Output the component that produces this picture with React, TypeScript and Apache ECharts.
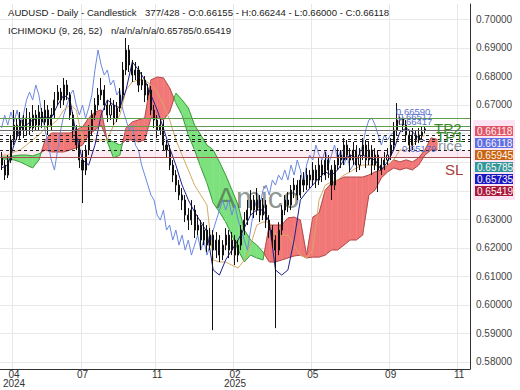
import React, { useEffect, useRef } from "react";
import * as echarts from "echarts";

const FONT = "'Liberation Sans', Arial, Helvetica, sans-serif";

// ---------- axes ----------
const CATEGORY_COUNT = 151; // bars incl. forward projection + right margin
const xTickIndex = [4, 26, 50, 75, 100, 125, 147];
const xTickLabels = ["04\n2024", "07", "11", "02\n2025", "05", "09", "11"];
const yGridValues = [0.58, 0.59, 0.6, 0.61, 0.62, 0.63, 0.64, 0.65, 0.66, 0.67, 0.68, 0.69, 0.7];
const yLabelValues = [0.58, 0.59, 0.6, 0.61, 0.62, 0.63, 0.67, 0.68, 0.69, 0.7];
const yMin = 0.57755;
const yMax = 0.70525;

// ---------- candles: [open, close, low, high] ----------
const candles: number[][] = [
  [0.65135, 0.6489, 0.64715, 0.65345],
  [0.6489, 0.6454, 0.64365, 0.65065],
  [0.6454, 0.65065, 0.64435, 0.6524],
  [0.65065, 0.65765, 0.6496, 0.6594],
  [0.65765, 0.6629, 0.6559, 0.66815],
  [0.6629, 0.6594, 0.65765, 0.66535],
  [0.6594, 0.66465, 0.65765, 0.66745],
  [0.66465, 0.66115, 0.65835, 0.6664],
  [0.66115, 0.66535, 0.6594, 0.66885],
  [0.66535, 0.66185, 0.6594, 0.66745],
  [0.66185, 0.6664, 0.66045, 0.6699],
  [0.6664, 0.6629, 0.66115, 0.66815],
  [0.6629, 0.66745, 0.66115, 0.6699],
  [0.66745, 0.66395, 0.66185, 0.66885],
  [0.66395, 0.66815, 0.6629, 0.67165],
  [0.66815, 0.6629, 0.6594, 0.6699],
  [0.6629, 0.6664, 0.66115, 0.66885],
  [0.6664, 0.67165, 0.66535, 0.67445],
  [0.67165, 0.67445, 0.6699, 0.6769],
  [0.67445, 0.67165, 0.66885, 0.67585],
  [0.67165, 0.6769, 0.6699, 0.67935],
  [0.6769, 0.6734, 0.67165, 0.67865],
  [0.6734, 0.6664, 0.66465, 0.67445],
  [0.6664, 0.66115, 0.65835, 0.66745],
  [0.66115, 0.6559, 0.65415, 0.6629],
  [0.6559, 0.65065, 0.64785, 0.65765],
  [0.65065, 0.64715, 0.6356, 0.65415],
  [0.64715, 0.65415, 0.6454, 0.6559],
  [0.65415, 0.66115, 0.6524, 0.6629],
  [0.66115, 0.6664, 0.6594, 0.66815],
  [0.6664, 0.6699, 0.66465, 0.67235],
  [0.6699, 0.6734, 0.66815, 0.67585],
  [0.6734, 0.67515, 0.67165, 0.67935],
  [0.67515, 0.6699, 0.66815, 0.6769],
  [0.6699, 0.6664, 0.66395, 0.67165],
  [0.6664, 0.6699, 0.66465, 0.67235],
  [0.6699, 0.66535, 0.6629, 0.67165],
  [0.66535, 0.66885, 0.66395, 0.67095],
  [0.66885, 0.6734, 0.66745, 0.67585],
  [0.6734, 0.68215, 0.67165, 0.68495],
  [0.68215, 0.68915, 0.6804, 0.69335],
  [0.68915, 0.6839, 0.68145, 0.6909],
  [0.6839, 0.6804, 0.67795, 0.68565],
  [0.6804, 0.68215, 0.67865, 0.68495],
  [0.68215, 0.6769, 0.67445, 0.68355],
  [0.6769, 0.67865, 0.67515, 0.68145],
  [0.67865, 0.6734, 0.67095, 0.68005],
  [0.6734, 0.67515, 0.67165, 0.67725],
  [0.67515, 0.66815, 0.6664, 0.67655],
  [0.66815, 0.66465, 0.66185, 0.6699],
  [0.66465, 0.66115, 0.65835, 0.6664],
  [0.66115, 0.6629, 0.6594, 0.66535],
  [0.6629, 0.6559, 0.65415, 0.66465],
  [0.6559, 0.65415, 0.65135, 0.65765],
  [0.65415, 0.6489, 0.64715, 0.6559],
  [0.6489, 0.6454, 0.64295, 0.65065],
  [0.6454, 0.6419, 0.63945, 0.64715],
  [0.6419, 0.6384, 0.63665, 0.64365],
  [0.6384, 0.63665, 0.63315, 0.64085],
  [0.63665, 0.6314, 0.62895, 0.6384],
  [0.6314, 0.62965, 0.62615, 0.63385],
  [0.62965, 0.63315, 0.6279, 0.63665],
  [0.63315, 0.62615, 0.62335, 0.6349],
  [0.62615, 0.6279, 0.6244, 0.6314],
  [0.6279, 0.62265, 0.61915, 0.62965],
  [0.62265, 0.62615, 0.6209, 0.62895],
  [0.62615, 0.6209, 0.61845, 0.6279],
  [0.6209, 0.6244, 0.61915, 0.62685],
  [0.6244, 0.61915, 0.59115, 0.62615],
  [0.61915, 0.62265, 0.61635, 0.62545],
  [0.62265, 0.6174, 0.61495, 0.6244],
  [0.6174, 0.6209, 0.61565, 0.62265],
  [0.6209, 0.6244, 0.61915, 0.62685],
  [0.6244, 0.61915, 0.61635, 0.62615],
  [0.61915, 0.62265, 0.6174, 0.62545],
  [0.62265, 0.6174, 0.6139, 0.6244],
  [0.6174, 0.6209, 0.61495, 0.62265],
  [0.6209, 0.62615, 0.61915, 0.6279],
  [0.62615, 0.62965, 0.6244, 0.63245],
  [0.62965, 0.63315, 0.6279, 0.63665],
  [0.63315, 0.63665, 0.6314, 0.64015],
  [0.63665, 0.63315, 0.63035, 0.6384],
  [0.63315, 0.63665, 0.6314, 0.64085],
  [0.63665, 0.6314, 0.62895, 0.6384],
  [0.6314, 0.6349, 0.62965, 0.63735],
  [0.6349, 0.62965, 0.62685, 0.63665],
  [0.62965, 0.62615, 0.62335, 0.6314],
  [0.62615, 0.62265, 0.61985, 0.6279],
  [0.62265, 0.61915, 0.59185, 0.6244],
  [0.61915, 0.62615, 0.6174, 0.62895],
  [0.62615, 0.63315, 0.6244, 0.6349],
  [0.63315, 0.63665, 0.6314, 0.6384],
  [0.63665, 0.6349, 0.63245, 0.63945],
  [0.6349, 0.64015, 0.63315, 0.6419],
  [0.64015, 0.6419, 0.63735, 0.64435],
  [0.6419, 0.6384, 0.63665, 0.64365],
  [0.6384, 0.64365, 0.63735, 0.6454],
  [0.64365, 0.6419, 0.63945, 0.64645],
  [0.6419, 0.6454, 0.64015, 0.64785],
  [0.6454, 0.64365, 0.64085, 0.64715],
  [0.64365, 0.64715, 0.6419, 0.64995],
  [0.64715, 0.64365, 0.64085, 0.6489],
  [0.64365, 0.6489, 0.6419, 0.65135],
  [0.6489, 0.6454, 0.64295, 0.65065],
  [0.6454, 0.65065, 0.64365, 0.65345],
  [0.65065, 0.64715, 0.64435, 0.6524],
  [0.64715, 0.6419, 0.63665, 0.6489],
  [0.6419, 0.6489, 0.64015, 0.65065],
  [0.6489, 0.6524, 0.64715, 0.65485],
  [0.6524, 0.65065, 0.64785, 0.65415],
  [0.65065, 0.6559, 0.6489, 0.65835],
  [0.6559, 0.6524, 0.65065, 0.65765],
  [0.6524, 0.65065, 0.64645, 0.65485],
  [0.65065, 0.65415, 0.6489, 0.65695],
  [0.65415, 0.6489, 0.64645, 0.6559],
  [0.6489, 0.6524, 0.64715, 0.65485],
  [0.6524, 0.6559, 0.65065, 0.65835],
  [0.6559, 0.65065, 0.64785, 0.65765],
  [0.65065, 0.65415, 0.6489, 0.65695],
  [0.65415, 0.6489, 0.6454, 0.6559],
  [0.6489, 0.6524, 0.64715, 0.65485],
  [0.6524, 0.64715, 0.63945, 0.65415],
  [0.64715, 0.6489, 0.6454, 0.65135],
  [0.6489, 0.65065, 0.64715, 0.65345],
  [0.65065, 0.6524, 0.6489, 0.65485],
  [0.6524, 0.6559, 0.65065, 0.65835],
  [0.6559, 0.66115, 0.65415, 0.66395],
  [0.66115, 0.66465, 0.6594, 0.6706],
  [0.66465, 0.66535, 0.6629, 0.6659],
  [0.66535, 0.6629, 0.66045, 0.6652],
  [0.6629, 0.6594, 0.65695, 0.66465],
  [0.6594, 0.6559, 0.65345, 0.66115],
  [0.6559, 0.6594, 0.65415, 0.66185],
  [0.6594, 0.65765, 0.6559, 0.66115],
  [0.65765, 0.6594, 0.6566, 0.66185],
  [0.6594, 0.66045, 0.65765, 0.66255],
  [0.66155, 0.66118, 0.66, 0.66244],
];

// ---------- Ichimoku lines (one reading every 2 bars) ----------
const ICHI_STEP = 2;
const tenkan = [
  0.6479, 0.6489, 0.6559, 0.6618, 0.6629, 0.6647, 0.6654, 0.6657, 0.6654, 0.6699,
  0.6734, 0.6717, 0.6594, 0.6507, 0.6489, 0.6559, 0.6664, 0.6717, 0.6699, 0.6689,
  0.6752, 0.685, 0.6822, 0.6787, 0.6734, 0.6682, 0.6618, 0.6549, 0.6489, 0.6419,
  0.6367, 0.6325, 0.629, 0.6255, 0.6122, 0.6104, 0.6157, 0.6192, 0.6227, 0.6269,
  0.6314, 0.6332, 0.6332, 0.629, 0.6122, 0.6104, 0.6122, 0.6227, 0.6367, 0.6395,
  0.6419, 0.6444, 0.6465, 0.6454, 0.6472, 0.6507, 0.6524, 0.6514, 0.6524, 0.6514,
  0.6507, 0.6472, 0.65, 0.6542, 0.6605, 0.6618, 0.6605, 0.6584, 0.65735,
];
const kijun = [
  0.6524, 0.6524, 0.6535, 0.6542, 0.6559, 0.6577, 0.6594, 0.6618, 0.6629, 0.6647,
  0.6682, 0.6699, 0.6682, 0.6577, 0.6577, 0.6577, 0.6577, 0.6577, 0.6629, 0.6664,
  0.6752, 0.678, 0.6787, 0.6787, 0.6769, 0.6745, 0.6699, 0.6647, 0.6577, 0.6524,
  0.6472, 0.6419, 0.6384, 0.6349, 0.6157, 0.615, 0.615, 0.6139, 0.6129, 0.6157,
  0.6209, 0.6279, 0.629, 0.629, 0.6244, 0.6244, 0.6244, 0.6209, 0.6174, 0.6164,
  0.6192, 0.6367, 0.6419, 0.643, 0.6437, 0.6454, 0.6465, 0.6479, 0.6489, 0.6489,
  0.6489, 0.6479, 0.6489, 0.6507, 0.6542, 0.6542, 0.6559, 0.6577, 0.65945,
];
const senkouA = [
  0.651, 0.651, 0.6507, 0.65, 0.6489, 0.6479, 0.6507, 0.6577, 0.6601, 0.6601,
  0.6601, 0.6601, 0.6612, 0.6622, 0.6654, 0.6675, 0.6682, 0.657, 0.6514, 0.6524,
  0.6619, 0.664, 0.6647, 0.6654, 0.6787, 0.6797, 0.6794, 0.6759, 0.6706, 0.6664,
  0.6594, 0.6542, 0.6482, 0.6426, 0.6356, 0.6325, 0.629, 0.6244, 0.6192, 0.615,
  0.6174, 0.6164, 0.6157, 0.6279, 0.6279, 0.6279, 0.6304, 0.6307, 0.6297, 0.6174,
  0.6307, 0.6321, 0.6402, 0.6426, 0.6437, 0.6447, 0.6447, 0.6447, 0.6447, 0.6454,
  0.6465, 0.6472, 0.6489, 0.6507, 0.65, 0.6507, 0.65, 0.6514, 0.6542, 0.6584, 0.65785,
];
const senkouB = [
  0.6517, 0.6517, 0.6521, 0.6524, 0.6524, 0.6521, 0.6528, 0.6542, 0.6535, 0.6535,
  0.6535, 0.6542, 0.6549, 0.6559, 0.6594, 0.6612, 0.6629, 0.6577, 0.657, 0.6559,
  0.6577, 0.6577, 0.657, 0.6577, 0.6654, 0.6654, 0.6647, 0.6675, 0.6741, 0.6717,
  0.6689, 0.6629, 0.6594, 0.6559, 0.6542, 0.65, 0.6454, 0.6402, 0.6349, 0.6262,
  0.6227, 0.6209, 0.6185, 0.615, 0.615, 0.6157, 0.6164, 0.6171, 0.6174, 0.6164,
  0.6167, 0.6167, 0.6174, 0.6192, 0.6192, 0.6209, 0.6227, 0.6227, 0.6244, 0.6384,
  0.6402, 0.6444, 0.6465, 0.6479, 0.6472, 0.6479, 0.6472, 0.6489, 0.6524, 0.6542, 0.65419,
];
const CHIKOU_SHIFT = 9; // close plotted 26 days back (9 bars here)

// ---------- levels ----------
const tp2Level = 0.6653;
const tp1Level = 0.6627;
const lastPrice = 0.66118;
const stopLoss = 0.6516;
const dashedLevels = [0.65945, 0.65785, 0.65735, 0.65419];

// ---------- texts ----------
const titleMain = "AUDUSD - Daily - Candlestick";
const titleOhlc = "377/428 - O:0.66155 - H:0.66244 - L:0.66000 - C:0.66118";
const ichiName = "ICHIMOKU (9, 26, 52)";
const ichiValues = "n/a/n/a/n/a/0.65785/0.65419";
const priceTags = ["0.66118", "0.66118", "0.65945", "0.65785", "0.65735", "0.65419"];
const priceTagColors = ["#e25565", "#5d6fe4", "#c8640f", "#2f9999", "#1818c2", "#a8193a"];
const peakNotes = ["0.66590", "0.66517", "0.66417", "0.65179"];

const RED_FILL = "#f27878";
const RED_EDGE = "#b04c4c";
const GREEN_FILL = "#7de27d";
const GREEN_EDGE = "#3f9a3f";

// line styles for horizontal rules: [color, dash]
const LINE_STYLES: any[] = [
  { stroke: "#e8e8e8", lineDash: null }, // 0 grid
  { stroke: "#5f9c4c", lineDash: null }, // 1 target
  { stroke: "#6e6e6e", lineDash: null }, // 2 price
  { stroke: "#222222", lineDash: [3, 3] }, // 3 dashed ichimoku value
  { stroke: "#a85050", lineDash: null }, // 4 stop loss
];

function buildOption(): any {
  const cats = Array.from({ length: CATEGORY_COUNT }, (_, i) => String(i));
  const cloudData: number[][] = [];
  for (let k = 0; k < senkouA.length - 1; k++) {
    cloudData.push([k * ICHI_STEP, senkouA[k], senkouB[k], (k + 1) * ICHI_STEP, senkouA[k + 1], senkouB[k + 1]]);
  }
  const chikouData = candles.slice(CHIKOU_SHIFT).map((c, k) => [k, c[1]]);
  const tenkanData = tenkan.map((v, k) => [k * ICHI_STEP, v]);
  const kijunData = kijun.map((v, k) => [k * ICHI_STEP, v]);

  // [x index (unused), y value, style kind]
  const gridRows = yGridValues.map((v) => [0, v, 0]);
  const levelRows = [
    [0, tp2Level, 1],
    [0, tp1Level, 1],
    [0, lastPrice, 2],
    ...dashedLevels.map((v) => [0, v, 3]),
    [0, stopLoss, 4],
  ];
  const bandRows = [[0, dashedLevels[3], stopLoss]];

  const renderHLine = (params: any, api: any) => {
    const cs = params.coordSys;
    const y = Math.round(api.coord([0, api.value(1)])[1]) + 0.5;
    const st = LINE_STYLES[api.value(2)];
    return {
      type: "line",
      shape: { x1: cs.x, y1: y, x2: cs.x + cs.width, y2: y },
      style: { stroke: st.stroke, lineWidth: 1, lineDash: st.lineDash || undefined },
    };
  };
  const renderBand = (params: any, api: any) => {
    const cs = params.coordSys;
    const y1 = api.coord([0, api.value(1)])[1];
    const y2 = api.coord([0, api.value(2)])[1];
    return {
      type: "rect",
      shape: { x: cs.x, y: Math.min(y1, y2), width: cs.width, height: Math.abs(y2 - y1) },
      style: { fill: "rgba(248,205,222,0.4)" },
    };
  };

  const renderCloud = (params: any, api: any) => {
    const i0 = api.value(0), a0 = api.value(1), b0 = api.value(2);
    const i1 = api.value(3), a1 = api.value(4), b1 = api.value(5);
    const A0 = api.coord([i0, a0]), B0 = api.coord([i0, b0]);
    const A1 = api.coord([i1, a1]), B1 = api.coord([i1, b1]);
    const d0 = a0 - b0, d1 = a1 - b1;
    const children: any[] = [];
    const poly = (pts: number[][], red: boolean) => ({
      type: "polygon",
      shape: { points: pts },
      style: { fill: red ? RED_FILL : GREEN_FILL, stroke: red ? RED_FILL : GREEN_FILL, lineWidth: 0.5 },
    });
    const seg = (p: number[], q: number[], red: boolean) => ({
      type: "line",
      shape: { x1: p[0], y1: p[1], x2: q[0], y2: q[1] },
      style: { stroke: red ? RED_EDGE : GREEN_EDGE, lineWidth: 1 },
    });
    if (d0 * d1 < 0) {
      const t = d0 / (d0 - d1);
      const X = [A0[0] + (A1[0] - A0[0]) * t, A0[1] + (A1[1] - A0[1]) * t];
      children.push(poly([A0, X, B0], d0 > 0));
      children.push(poly([X, A1, B1], d1 > 0));
      children.push(seg(A0, X, d0 > 0), seg(B0, X, d0 > 0), seg(X, A1, d1 > 0), seg(X, B1, d1 > 0));
    } else {
      const red = d0 + d1 >= 0;
      children.push(poly([A0, A1, B1, B0], red));
      children.push(seg(A0, A1, red), seg(B0, B1, red));
    }
    return { type: "group", children };
  };

  const txt = (text: string, x: number, y: number, size: number, fill: string, z = 20, extra: any = {}) => ({
    type: "text",
    x,
    y,
    z,
    silent: true,
    style: { text, fill, fontSize: size, fontFamily: FONT, verticalAlign: "middle", textVerticalAlign: "middle", ...extra },
  });

  const graphics: any[] = [
    txt(titleMain, 8, 12, 9.6, "#222"),
    txt(titleOhlc, 145, 12, 9.6, "#222"),
    txt(ichiName, 8, 30, 9.6, "#222"),
    txt(ichiValues, 111, 30, 9.6, "#222"),
    txt("Amico", 216, 197, 30, "rgba(70,82,70,0.62)", 3),
    txt("Price", 428, 145, 15, "#8a96a2", 1),
    txt("TP2", 434, 128, 15, "#3b8a2c"),
    txt("TP1", 436, 136, 15, "#3b8a2c"),
    txt("SL", 445, 169, 15, "#a4403c"),
    txt(peakNotes[0], 396, 111, 9.5, "#5a72cc"),
    txt(peakNotes[1], 398, 116.5, 9.5, "#5a72cc"),
    txt(peakNotes[2], 398, 121, 9.5, "#5a72cc"),
    txt(peakNotes[3], 402, 148, 9.5, "#5a72cc"),
    { type: "rect", z: 30, silent: true, shape: { x: 473, y: 120, width: 42, height: 80 }, style: { fill: "#fce4f3" } },
  ];
  priceTags.forEach((t, k) => {
    const cy = 131 + k * 12;
    graphics.push({
      type: "rect",
      z: 31,
      silent: true,
      shape: { x: 475, y: cy - 5, width: 38, height: 10 },
      style: { fill: priceTagColors[k] },
    });
    graphics.push(txt(t, 477, cy, 10, "#fff4f6", 32));
  });

  return {
    animation: false,
    backgroundColor: "#ffffff",
    textStyle: { fontFamily: FONT },
    grid: { left: 0, right: 50, top: 4, bottom: 21, outerBoundsMode: "none", containLabel: false },
    xAxis: {
      type: "category",
      data: cats,
      boundaryGap: true,
      axisLine: { show: true, lineStyle: { color: "#333", width: 1 } },
      axisTick: { show: false },
      axisLabel: {
        interval: (idx: number) => xTickIndex.includes(idx),
        formatter: (v: string) => {
          const p = xTickIndex.indexOf(Number(v));
          return p >= 0 ? xTickLabels[p] : "";
        },
        color: "#333",
        fontSize: 10,
        lineHeight: 9,
        margin: 1,
        fontFamily: FONT,
      },
      splitLine: {
        show: true,
        interval: (idx: number) => xTickIndex.includes(idx),
        lineStyle: { color: "#e6e6e6", width: 1 },
      },
    },
    yAxis: {
      type: "value",
      position: "right",
      min: yMin,
      max: yMax,
      scale: true,
      axisLine: { show: true, lineStyle: { color: "#333", width: 1 } },
      axisTick: { show: false },
      axisLabel: {
        customValues: yLabelValues,
        formatter: (v: number) => v.toFixed(5),
        color: "#444",
        fontSize: 10,
        margin: 6,
        fontFamily: FONT,
      },
      splitLine: { show: false },
    },
    graphic: graphics,
    series: [
      {
        type: "custom",
        name: "gridlines",
        z: 1,
        silent: true,
        renderItem: renderHLine,
        encode: { x: 0, y: 1 },
        data: gridRows,
      },
      {
        type: "custom",
        name: "slzone",
        z: 1,
        silent: true,
        renderItem: renderBand,
        encode: { x: 0, y: [1, 2] },
        data: bandRows,
      },
      {
        type: "custom",
        name: "cloud",
        z: 2,
        silent: true,
        renderItem: renderCloud,
        encode: { x: [0, 3], y: [1, 2, 4, 5] },
        data: cloudData,
        clip: true,
      },
      {
        type: "line",
        name: "chikou",
        z: 3,
        data: chikouData,
        symbol: "none",
        silent: true,
        lineStyle: { color: "#6b88e0", width: 1 },
      },
      {
        type: "line",
        name: "kijun",
        z: 3,
        data: kijunData,
        symbol: "none",
        silent: true,
        lineStyle: { color: "#d6a864", width: 1 },
      },
      {
        type: "line",
        name: "tenkan",
        z: 3,
        data: tenkanData,
        symbol: "none",
        silent: true,
        lineStyle: { color: "#1f1f8f", width: 1 },
      },
      {
        type: "candlestick",
        name: "AUDUSD",
        z: 4,
        data: candles,
        barMaxWidth: 2,
        silent: true,
        itemStyle: {
          color: "#ffffff",
          color0: "#111111",
          borderColor: "#111111",
          borderColor0: "#111111",
          borderWidth: 1,
        },
      },
      {
        type: "custom",
        name: "levels",
        z: 5,
        silent: true,
        renderItem: renderHLine,
        encode: { x: 0, y: 1 },
        data: levelRows,
      },
    ],
  };
}

export default function App() {
  const ref = useRef<HTMLDivElement | null>(null);
  useEffect(() => {
    if (!ref.current) return;
    const chart = echarts.init(ref.current, undefined, { renderer: "svg" });
    chart.setOption(buildOption());
    return () => chart.dispose();
  }, []);
  return (
    <div
      ref={ref}
      style={{ position: "fixed", left: 0, top: 0, width: 520, height: 390, background: "#fff" }}
    />
  );
}
